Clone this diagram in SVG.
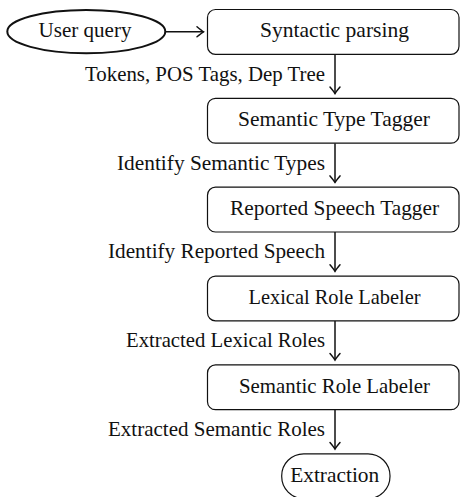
<svg xmlns="http://www.w3.org/2000/svg" width="460" height="497" viewBox="0 0 460 497">
<style>
text{font-family:"Liberation Serif","Times New Roman",serif;font-size:21px;fill:#111}
.c{text-anchor:middle}
.l{text-anchor:end}
.box{fill:#fff;stroke:#111;stroke-width:1.2}
.ar{stroke:#111;stroke-width:1.5;fill:none;marker-end:url(#tip)}
</style>
<defs>
<marker id="tip" markerUnits="userSpaceOnUse" markerWidth="14" markerHeight="14" viewBox="-8 -7 10 14" refX="0" refY="0" orient="auto">
<path d="M-6.5,-5 Q-2,-1.2 0,0 Q-2,1.2 -6.5,5" fill="none" stroke="#111" stroke-width="1.5" stroke-linecap="round"/>
</marker>
</defs>
<rect width="460" height="497" fill="#fff"/>
<g id="connectors">
<line class="ar" x1="166" y1="31.8" x2="203.5" y2="31.8"/>
<line class="ar" x1="335" y1="54.3" x2="335" y2="93.6"/>
<line class="ar" x1="335" y1="143.2" x2="335" y2="182.4"/>
<line class="ar" x1="335" y1="232" x2="335" y2="271.3"/>
<line class="ar" x1="335" y1="320.9" x2="335" y2="360.1"/>
<line class="ar" x1="335" y1="409.7" x2="335" y2="449"/>
<text class="l" x="325" y="80.7" textLength="240" lengthAdjust="spacingAndGlyphs">Tokens, POS Tags, Dep Tree</text>
<text class="l" x="325" y="169.5" textLength="208" lengthAdjust="spacingAndGlyphs">Identify Semantic Types</text>
<text class="l" x="325" y="258.4" textLength="217" lengthAdjust="spacingAndGlyphs">Identify Reported Speech</text>
<text class="l" x="325" y="347.2" textLength="199" lengthAdjust="spacingAndGlyphs">Extracted Lexical Roles</text>
<text class="l" x="325" y="436.1" textLength="217" lengthAdjust="spacingAndGlyphs">Extracted Semantic Roles</text>
</g>
<g id="user-query">
<ellipse cx="86.3" cy="31.6" rx="79" ry="21.6" fill="#fff" stroke="#111" stroke-width="2"/>
<text class="c" x="85" y="37.3" textLength="93" lengthAdjust="spacingAndGlyphs">User query</text>
</g>
<g id="syntactic-parsing">
<rect class="box" x="207.5" y="9.5" width="251.5" height="44.8" rx="8"/>
<text class="c" x="334.5" y="37.3" textLength="149" lengthAdjust="spacingAndGlyphs">Syntactic parsing</text>
</g>
<g id="semantic-type-tagger">
<rect class="box" x="207.5" y="98.35" width="251.5" height="44.8" rx="8"/>
<text class="c" x="334" y="126.2" textLength="192" lengthAdjust="spacingAndGlyphs">Semantic Type Tagger</text>
</g>
<g id="reported-speech-tagger">
<rect class="box" x="207.5" y="187.2" width="251.5" height="44.8" rx="8"/>
<text class="c" x="334.6" y="215" textLength="209" lengthAdjust="spacingAndGlyphs">Reported Speech Tagger</text>
</g>
<g id="lexical-role-labeler">
<rect class="box" x="207.5" y="276.05" width="251.5" height="44.8" rx="8"/>
<text class="c" x="334.5" y="303.9" textLength="172" lengthAdjust="spacingAndGlyphs">Lexical Role Labeler</text>
</g>
<g id="semantic-role-labeler">
<rect class="box" x="207.5" y="364.9" width="251.5" height="44.8" rx="8"/>
<text class="c" x="334.5" y="392.7" textLength="191" lengthAdjust="spacingAndGlyphs">Semantic Role Labeler</text>
</g>
<g id="extraction">
<rect class="box" x="281.7" y="453.8" width="108.3" height="44.8" rx="22" ry="22"/>
<text class="c" x="334.7" y="481.6" textLength="89" lengthAdjust="spacingAndGlyphs">Extraction</text>
</g>
</svg>
